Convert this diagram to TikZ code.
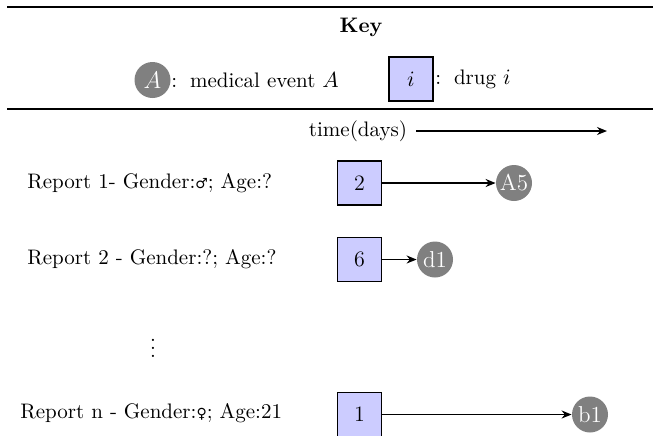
\documentclass[tikz,border=0pt]{standalone}
\usepackage{fontspec}
\newfontfamily\symfont{DejaVu Sans}
\usetikzlibrary{arrows.meta}
\begin{document}
\begin{tikzpicture}[x=0.5pt,y=-0.5pt, font=\fontsize{10.5}{12.5}\selectfont,
  event/.style={circle, fill=black!50, text=white, minimum size=18pt, inner sep=0pt, font=\fontsize{11.5}{13}\selectfont},
  drug/.style={draw=black, line width=0.9pt, fill=blue!20, minimum size=22pt, inner sep=0pt, font=\fontsize{11}{13}\selectfont},
  rule/.style={line width=0.9pt},
  conn/.style={-{Stealth[length=5pt,width=4pt]}, line width=0.75pt},
  lbl/.style={anchor=west, inner sep=0pt}]
\useasboundingbox (0,0) rectangle (653,435);
% rules
\coordinate (r1a) at (7,7);   \coordinate (r1b) at (653,7);
\coordinate (r2a) at (7,109); \coordinate (r2b) at (653,109);
\draw[rule] (r1a) -- (r1b);
\draw[rule] (r2a) -- (r2b);
% key
\node[font=\fontsize{10.5}{12.5}\selectfont\bfseries] (key) at (361,27) {Key};
\node[event] (kA) at (152.5,80) {$A$};
\node[lbl] (kAt) at (171,80) {:\, medical event $A$};
\node[drug] (ki) at (411,79) {$i$};
\node[lbl] (kit) at (435,79) {:\, drug $i$};
% time axis
\node (time) at (358,131) {time(days)};
\coordinate (tend) at (607,131);
\draw[conn] ([xshift=1pt]time.east) -- (tend);
% report 1
\node[lbl] (rep1) at (27,183) {Report 1- Gender:{\symfont\fontsize{7}{9}\selectfont ♂}; Age:?};
\node[drug] (d2) at (359.5,183) {2};
\node[event] (A5) at (514,183) {A5};
\draw[conn] (d2) -- (A5);
% report 2
\node[lbl] (rep2) at (27,259) {Report 2 - Gender:?; Age:?};
\node[drug] (d6) at (359.5,259.5) {6};
\node[event] (d1) at (435,259.5) {d1};
\draw[conn] (d6) -- (d1);
% dots
\node (dots) at (153,342) {$\vdots$};
% report n
\node[lbl] (repn) at (20,413) {Report n - Gender:{\symfont\fontsize{7}{9}\selectfont ♀}; Age:21};
\node[drug] (d1b) at (359.5,414.5) {1};
\node[event] (b1) at (590,414.5) {b1};
\draw[conn] (d1b) -- (b1);
\end{tikzpicture}
\end{document}
